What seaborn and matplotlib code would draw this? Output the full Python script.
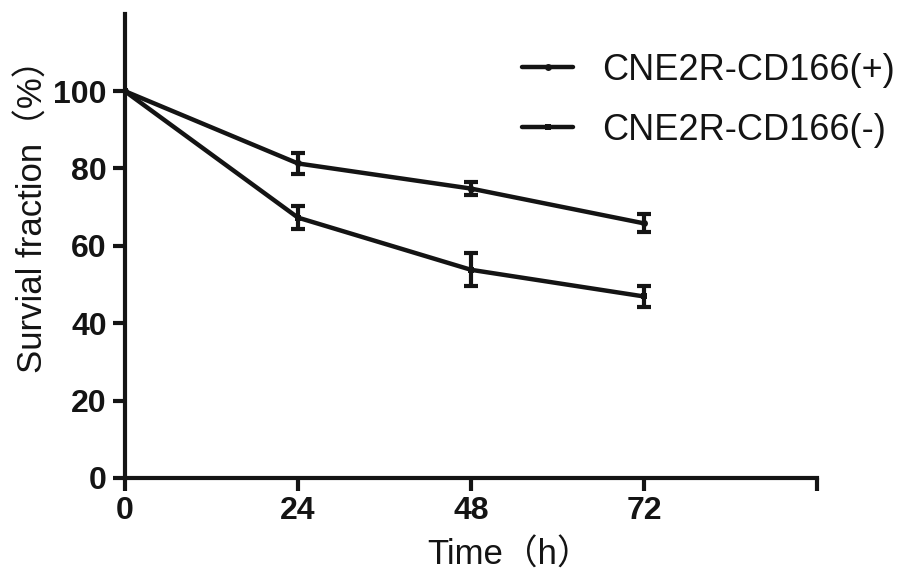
import numpy as np
import pandas as pd
import matplotlib
matplotlib.use("Agg")
import matplotlib.pyplot as plt
import seaborn as sns

sns.set_theme(style="ticks")
plt.rcParams["font.family"] = ["Liberation Sans", "Noto Sans CJK SC", "DejaVu Sans"]
INK = "#141414"
plt.rcParams.update({"text.color": INK, "axes.labelcolor": INK,
                     "xtick.color": INK, "ytick.color": INK})

# ── Data ───────────────────────────────────────────────────────────────────
hours = [0, 24, 48, 72]
pos_mean = [100, 81.3, 74.8, 65.8]
pos_err = [0, 2.8, 1.6, 2.3]
neg_mean = [100, 67.3, 53.8, 46.9]
neg_err = [0, 2.9, 4.3, 2.7]
labels = ["CNE2R-CD166(+)", "CNE2R-CD166(-)"]

df = pd.DataFrame({
    "Time": hours * 2,
    "Survival": pos_mean + neg_mean,
    "Group": [labels[0]] * 4 + [labels[1]] * 4,
})

fig = plt.figure(figsize=(9.04, 5.73), dpi=100)
ax = fig.add_axes([0.138, 0.166, 0.766, 0.81])

sns.lineplot(data=df, x="Time", y="Survival", hue="Group", style="Group",
             markers={labels[0]: "o", labels[1]: "s"}, dashes=False,
             palette=[INK, INK], linewidth=3.2, markersize=5,
             markeredgewidth=0, ax=ax, legend=False)

for m, e in [(pos_mean, pos_err), (neg_mean, neg_err)]:
    ax.errorbar(hours[1:], m[1:], yerr=e[1:], fmt="none", ecolor=INK,
                elinewidth=3, capsize=5, capthick=3)

ax.set_xlim(0, 96)
ax.set_ylim(0, 120)
ax.set_xticks([0, 24, 48, 72, 96])
ax.set_xticklabels(["0", "24", "48", "72", ""])
ax.set_yticks([0, 20, 40, 60, 80, 100])
ax.tick_params(axis="both", width=3, length=9, labelsize=23, pad=4)
for t in ax.get_xticklabels() + ax.get_yticklabels():
    t.set_fontweight("bold")
for s in ["left", "bottom"]:
    ax.spines[s].set_linewidth(3)
    ax.spines[s].set_color(INK)
sns.despine(ax=ax)

ax.set_xlabel("Time（h）", fontsize=25)
ax.set_ylabel("Survial fraction（%）", fontsize=25)
ax.xaxis.set_label_coords(0.555, -0.13)
ax.yaxis.set_label_coords(-0.108, 0.582)

# legend handles drawn from the same style
h_pos, = ax.plot([], [], color=INK, lw=3.2, marker="o", ms=5, mew=0)
h_neg, = ax.plot([], [], color=INK, lw=3.2, marker="s", ms=5, mew=0)
fig.legend([h_pos, h_neg], labels, loc="upper left",
           bbox_to_anchor=(0.55, 0.952), frameon=False, fontsize=26,
           handlelength=1.4, handletextpad=0.8, labelspacing=0.7,
           borderpad=0.2)

plt.savefig("out.png", dpi=100)
plt.close()
